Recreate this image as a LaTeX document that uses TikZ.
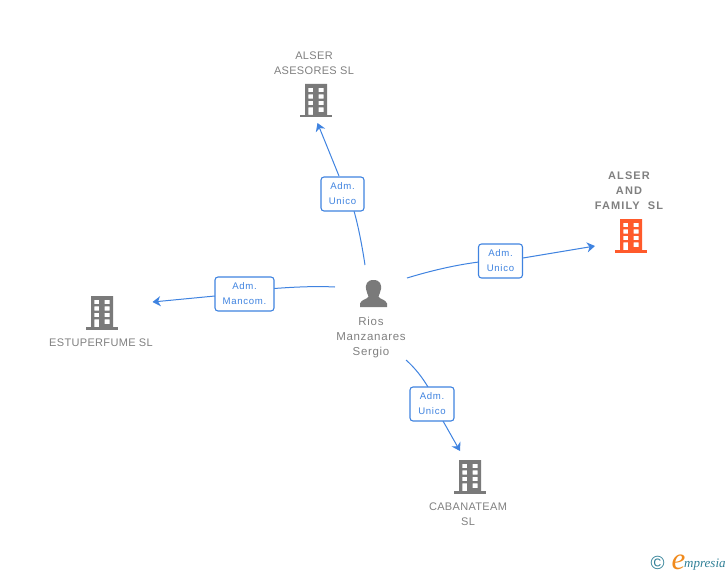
\documentclass[tikz,border=0pt]{standalone}
\usepackage{fontspec}
\setmainfont{Liberation Sans}
\newfontfamily\logofont{Liberation Serif}
\newfontfamily\capfont[LetterSpace=3]{Liberation Sans}
\newfontfamily\persfont[LetterSpace=6]{Liberation Sans}
\newfontfamily\boldcapfont[LetterSpace=10]{Liberation Sans Bold}
\newfontfamily\relfont[LetterSpace=7]{Liberation Sans}
\usetikzlibrary{arrows.meta}
\definecolor{linkblue}{HTML}{3F83E0}
\definecolor{greytxt}{HTML}{808080}
\definecolor{icongrey}{HTML}{7A7A7A}
\definecolor{iconorange}{HTML}{FF5A2B}
\definecolor{logoteal}{HTML}{2F7F96}
\definecolor{logoorange}{HTML}{F08A1D}
\tikzset{
  relbox/.style={draw=linkblue,line width=1.1pt,rounded corners=3pt,fill=white,text=linkblue,
    font=\relfont\fontsize{9.6}{15}\selectfont,align=center,inner sep=0pt,minimum height=34pt},
  rel/.style={draw=linkblue,line width=1pt},
  relarrow/.style={rel,-{Stealth[length=8pt,width=10pt,inset=2.5pt]}},
  caption/.style={text=greytxt,font=\capfont\fontsize{11}{15}\selectfont,align=center,inner sep=0pt},
  pics/company/.style={code={
    \fill[#1,even odd rule] (-11,0) rectangle (11,31)
      (-7.6,3.8) rectangle (-2.8,8.2) (2.6,3.8) rectangle (7.6,8.2)
      (-7.6,10.3) rectangle (-2.8,14.7) (2.6,10.3) rectangle (7.6,14.7)
      (-7.6,16.8) rectangle (-2.8,21.2) (2.6,16.8) rectangle (7.6,21.2)
      (-7.6,23.3) rectangle (-2.8,31) (2.6,23.3) rectangle (7.6,28.2);
    \fill[#1] (-16,30.7) rectangle (16,33.5);
  }},
}
\begin{document}
\begin{tikzpicture}[x=1pt,y=-1pt]
\useasboundingbox (0,0) rectangle (728,575);
% buildings
\pic at (316,84) {company=icongrey};
\pic at (631,219) {company=iconorange};
\pic at (102,296) {company=icongrey};
\pic at (470,460) {company=icongrey};
% person
\fill[icongrey] (373.5,280) .. controls (366.5,280) and (365.5,285) .. (366,289)
  .. controls (366.5,292.5) and (368,294.5) .. (368.5,296.5)
  .. controls (368,299) and (361,299.5) .. (360,303.5) -- (360,307) -- (387,307) -- (387,303.5)
  .. controls (386,299.5) and (379,299) .. (378.5,296.5)
  .. controls (379,294.5) and (380.5,292.5) .. (381,289)
  .. controls (381.5,285) and (380.5,280) .. (373.5,280) -- cycle;
% captions
\node[caption] (asesores) at (314,63.5) {ALSER\\ASESORES SL};
\node[caption,font=\boldcapfont\fontsize{11}{15}\selectfont] (family) at (629,190.5) {ALSER\\AND\\FAMILY\ \ SL};
\node[caption] (estuperfume) at (101,342.5) {ESTUPERFUME SL};
\node[caption] (cabanateam) at (468,514.5) {CABANATEAM\\SL};
\node[caption,font=\persfont\fontsize{11.5}{15}\selectfont] (rios) at (371,337.5) {Rios\\Manzanares\\Sergio};
% connector ends
\coordinate (pN) at (365,265);
\coordinate (pE) at (407,278);
\coordinate (pW) at (335,287);
\coordinate (pS) at (406,360);
\coordinate (tN) at (317.5,123);
\coordinate (tE) at (595,246);
\coordinate (tW) at (152.5,302);
\coordinate (tS) at (460,451);
% connectors
\draw[rel] (pN) .. controls (362,245) and (358,225) .. (354,211);
\draw[rel] (pE) .. controls (430,271) and (455,265) .. (479,262);
\draw[rel] (pW) .. controls (315,286) and (295,287) .. (274,288.5);
\draw[rel] (pS) .. controls (415,368) and (422,377) .. (428,387);
\draw[relarrow] (339,176) -- (tN);
\draw[relarrow] (523,258) -- (tE);
\draw[relarrow] (215,296) -- (tW);
\draw[relarrow] (443,421) -- (tS);
% relation boxes
\node[relbox,minimum width=43pt] (r1) at (342.5,194) {Adm.\\Unico};
\node[relbox,minimum width=44pt] (r2) at (500.5,261) {Adm.\\Unico};
\node[relbox,minimum width=59pt] (r3) at (244.5,294) {Adm.\\Mancom.};
\node[relbox,minimum width=44pt] (r4) at (432,404) {Adm.\\Unico};
% logo
\node[text=logoteal,font=\fontsize{19}{19}\selectfont,inner sep=0pt] (copyr) at (657.5,563) {©};
\node[text=logoorange,font=\logofont\itshape\fontsize{31}{31}\selectfont,inner sep=0pt] (loge) at (678.5,562) {e};
\node[text=logoteal,font=\logofont\itshape\fontsize{13}{13}\selectfont,inner sep=0pt,anchor=west] (logt) at (684,565) {mpresia};
\end{tikzpicture}
\end{document}
